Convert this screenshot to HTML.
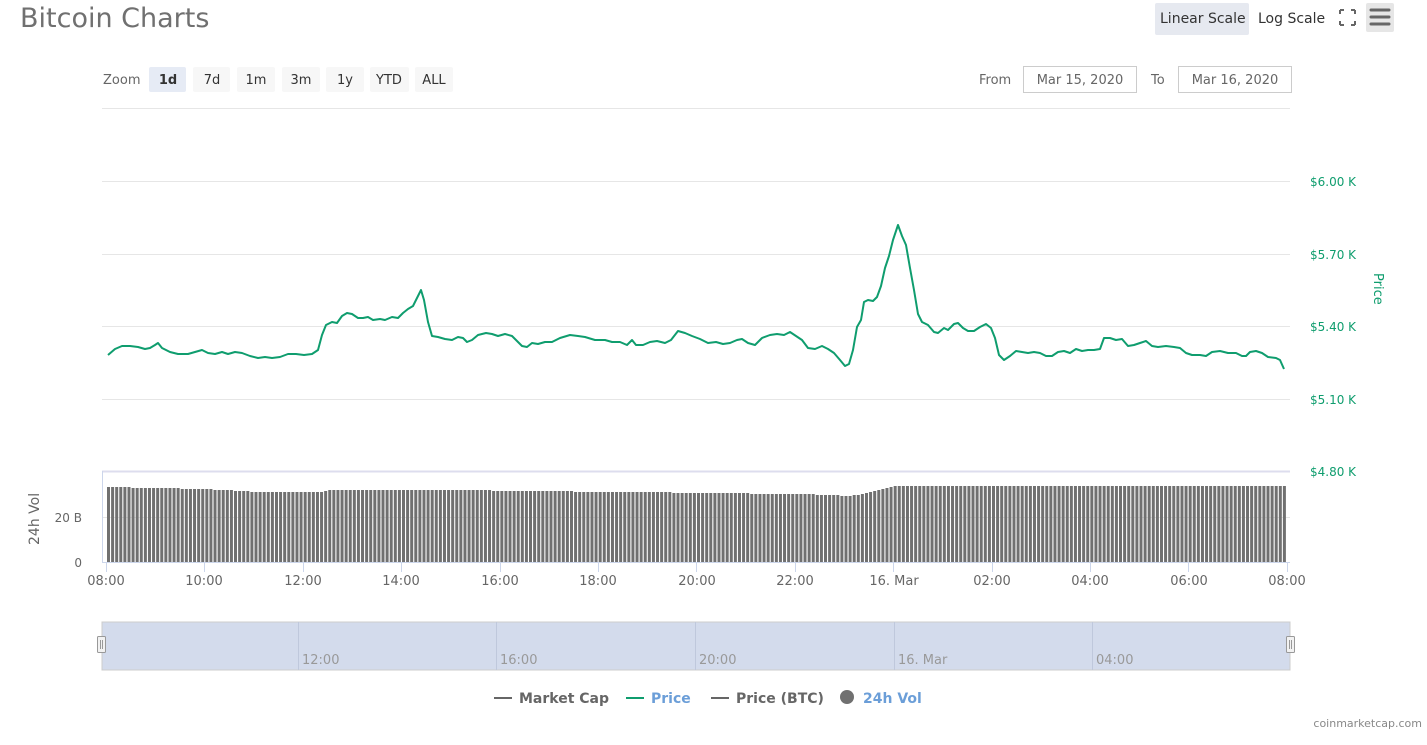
<!DOCTYPE html>
<html><head><meta charset="utf-8"><style>
body{margin:0;background:#fff;width:1427px;height:741px;overflow:hidden;font-family:"DejaVu Sans","Liberation Sans",sans-serif;}
svg text{font-family:"DejaVu Sans","Liberation Sans",sans-serif;}
</style></head><body>
<svg id="s" width="1427" height="741" xmlns="http://www.w3.org/2000/svg">
<text x="20" y="27" font-size="27" fill="#707070">Bitcoin Charts</text>
<rect x="1155" y="3" width="94" height="32" rx="2" fill="#e6e9f0"/>
<text x="1160" y="23" font-size="14" fill="#333">Linear Scale</text>
<text x="1258" y="23" font-size="14" fill="#333">Log Scale</text>
<g stroke="#666" stroke-width="2" fill="none">
<path d="M1340 10l4 0M1340 10l0 4M1355 10l-4 0M1355 10l0 4M1340 25l4 0M1340 25l0-4M1355 25l-4 0M1355 25l0-4"/>
</g>
<rect x="1366" y="3" width="28" height="29" rx="2" fill="#e6e6e6"/>
<g stroke="#666" stroke-width="3" stroke-linecap="round"><path d="M1371 10h18M1371 17h18M1371 24h18"/></g>
<text x="103" y="84" font-size="13" fill="#666">Zoom</text>
<g font-size="13" fill="#333" text-anchor="middle">
<rect x="149" y="67" width="37" height="25" rx="2" fill="#e6ebf5"/><text x="168" y="84" font-weight="bold">1d</text>
<rect x="193" y="67" width="37" height="25" rx="2" fill="#f7f7f7"/><text x="212" y="84">7d</text>
<rect x="237" y="67" width="38" height="25" rx="2" fill="#f7f7f7"/><text x="256" y="84">1m</text>
<rect x="282" y="67" width="38" height="25" rx="2" fill="#f7f7f7"/><text x="301" y="84">3m</text>
<rect x="326" y="67" width="38" height="25" rx="2" fill="#f7f7f7"/><text x="345" y="84">1y</text>
<rect x="370" y="67" width="39" height="25" rx="2" fill="#f7f7f7"/><text x="389" y="84">YTD</text>
<rect x="415" y="67" width="38" height="25" rx="2" fill="#f7f7f7"/><text x="434" y="84">ALL</text>
</g>
<text x="979" y="84" font-size="13" fill="#666">From</text>
<rect x="1023.5" y="66.5" width="113" height="26" fill="#fff" stroke="#ccc"/>
<text x="1080" y="84" font-size="13" fill="#666" text-anchor="middle">Mar 15, 2020</text>
<text x="1151" y="84" font-size="13" fill="#666">To</text>
<rect x="1178.5" y="66.5" width="113" height="26" fill="#fff" stroke="#ccc"/>
<text x="1235" y="84" font-size="13" fill="#666" text-anchor="middle">Mar 16, 2020</text>
<g stroke="#e6e6e6" stroke-width="1">
<path d="M102 108.5H1290M102 181.5H1290M102 254.5H1290M102 326.5H1290M102 399.5H1290M102 517.5H1290"/>
</g>
<path d="M102 471.5H1290" stroke="#dde" stroke-width="2"/>
<path d="M102.5 471V562" stroke="#ccd6eb"/>
<g font-size="12" fill="#0f9d6e">
<text x="1310" y="186">$6.00 K</text><text x="1310" y="259">$5.70 K</text><text x="1310" y="331">$5.40 K</text><text x="1310" y="404">$5.10 K</text><text x="1310" y="476">$4.80 K</text>
</g>
<text transform="translate(1374,273) rotate(90)" font-size="13" fill="#0f9d6e">Price</text>
<text transform="translate(39,545) rotate(-90)" font-size="14" fill="#666">24h Vol</text>
<text x="82" y="522" font-size="12" fill="#666" text-anchor="end">20 B</text>
<text x="82" y="567" font-size="12" fill="#666" text-anchor="end">0</text>
<g id="bars" fill="#707070"></g>
<path d="M102 562.5H1290" stroke="#ccd6eb"/>
<g id="ticks" stroke="#ccd6eb"></g>
<g font-size="13" fill="#666" text-anchor="middle">
<text x="106" y="585">08:00</text><text x="204" y="585">10:00</text><text x="303" y="585">12:00</text><text x="401" y="585">14:00</text><text x="500" y="585">16:00</text><text x="598" y="585">18:00</text><text x="697" y="585">20:00</text><text x="795" y="585">22:00</text><text x="894" y="585">16. Mar</text><text x="992" y="585">02:00</text><text x="1090" y="585">04:00</text><text x="1189" y="585">06:00</text><text x="1287" y="585">08:00</text>
</g>
<polyline fill="none" stroke="#0f9d6e" stroke-width="2" stroke-linejoin="round" points="108,355 115,349 122,346 130,346 138,347 145,349 150,348 155,345 158,343 162,348 170,352 178,354 188,354 195,352 202,350 208,353 215,354 222,352 228,354 235,352 242,353 250,356 258,358 265,357 272,358 280,357 288,354 296,354 304,355 312,354 318,350 322,335 326,325 332,322 337,323 342,316 347,313 352,314 358,318 363,318 368,317 373,320 380,319 385,320 392,317 398,318 403,313 408,309 413,306 417,298 421,290 424,300 428,322 432,336 438,337 445,339 452,340 458,337 463,338 467,342 472,340 478,335 486,333 492,334 498,336 505,334 512,336 518,342 522,346 527,347 532,343 538,344 545,342 552,342 560,338 570,335 578,336 585,337 595,340 605,340 612,342 620,342 627,345 632,340 636,345 643,345 650,342 657,341 665,343 671,340 678,331 685,333 692,336 700,339 708,343 716,342 723,344 730,343 737,340 742,339 748,343 755,345 762,338 770,335 777,334 784,335 790,332 796,336 802,340 808,348 815,349 822,346 828,349 834,353 840,360 845,366 849,364 853,350 857,327 861,320 864,302 868,300 873,301 877,297 881,286 885,268 889,256 893,240 898,225 902,236 906,245 910,268 914,290 918,314 922,322 928,325 934,332 938,333 944,328 948,330 954,324 958,323 963,328 968,331 974,331 980,327 986,324 991,328 995,338 999,355 1004,360 1010,356 1016,351 1022,352 1028,353 1034,352 1040,353 1046,356 1052,356 1058,352 1064,351 1070,353 1076,349 1082,351 1088,350 1094,350 1100,349 1104,338 1110,338 1116,340 1122,339 1128,346 1134,345 1140,343 1146,341 1152,346 1158,347 1166,346 1174,347 1180,348 1186,353 1192,355 1200,355 1206,356 1212,352 1220,351 1228,353 1236,353 1242,356 1246,356 1250,352 1256,351 1262,353 1268,357 1276,358 1280,360 1284,369"/>
<rect x="102" y="622" width="1188" height="48" fill="#d3dbec" stroke="#ccc"/>
<g stroke="#bfc8dc"><path d="M298.5 622V670M496.5 622V670M695.5 622V670M894.5 622V670M1092.5 622V670"/></g>
<g font-size="13" fill="#999"><text x="302" y="664">12:00</text><text x="500" y="664">16:00</text><text x="699" y="664">20:00</text><text x="898" y="664">16. Mar</text><text x="1096" y="664">04:00</text></g>
<g fill="#f2f2f2" stroke="#999"><rect x="97.5" y="636.5" width="8" height="16" rx="1"/><rect x="1286.5" y="636.5" width="8" height="16" rx="1"/></g>
<g stroke="#999"><path d="M100.5 640V649M102.5 640V649M1289.5 640V649M1291.5 640V649"/></g>
<g font-size="14" font-weight="bold">
<path d="M494 698H512" stroke="#666" stroke-width="2"/><text x="519" y="703" fill="#666">Market Cap</text>
<path d="M626 698H644" stroke="#0f9d6e" stroke-width="2"/><text x="651" y="703" fill="#6b9ed8">Price</text>
<path d="M711 698H729" stroke="#666" stroke-width="2"/><text x="736" y="703" fill="#666">Price (BTC)</text>
<circle cx="847" cy="697" r="7" fill="#707070"/><text x="863" y="703" fill="#6b9ed8">24h Vol</text>
</g>
<text x="1422" y="727" font-size="11" fill="#888" text-anchor="end">coinmarketcap.com</text>
</svg>
<script>
(function(){
var g=document.getElementById('bars'),t=document.getElementById('ticks'),h='';
var n=288,x0=107,x1=1287,w=(x1-x0)/n;
var pts=[[107,487],[200,489],[260,492],[320,492],[330,490],[480,490],[500,491],[640,492],[700,493],[800,494],[850,496],[870,492],[895,486],[1287,486]];
function barTop(x){
 for(var i=0;i<pts.length-1;i++){if(x<=pts[i+1][0]){var a=pts[i],b=pts[i+1];return a[1]+(b[1]-a[1])*(x-a[0])/(b[0]-a[0]);}}return 486;}
for(var i=0;i<n;i++){var x=x0+i*w;var y=Math.round(barTop(x));h+='<rect x="'+x.toFixed(2)+'" y="'+y+'" width="'+(w-1.1).toFixed(2)+'" height="'+(562-y)+'"/>';}
g.innerHTML=h;
var th='';for(var k=0;k<13;k++){var xx=Math.round(106+k*98.4)+0.5;th+='<path d="M'+xx+' 562V572"/>';}
t.innerHTML=th;
})();
</script>
</body></html>
